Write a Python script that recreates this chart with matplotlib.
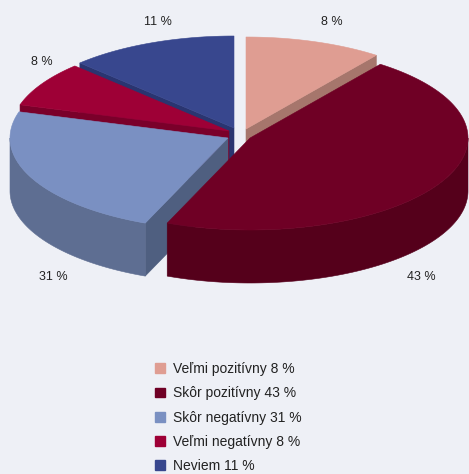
import numpy as np
import matplotlib
matplotlib.use('Agg')
import matplotlib.pyplot as plt
from matplotlib.patches import Polygon, Patch

categories = ['Veľmi pozitívny', 'Skôr pozitívny', 'Skôr negatívny', 'Veľmi negatívny', 'Neviem']
printed_percent = [8, 43, 31, 8, 11]
# the drawn wedges do not follow the printed numbers, so shares are read from the wedge angles
wedge_share = [10.2, 46.0, 23.4, 7.9, 12.5]

top_colors = ['#DF9D92', '#6F0025', '#7A90C2', '#9E0036', '#38478E']
wall_colors = ['#A6766C', '#55001B', '#5E6E92', '#7A002A', '#2A3570']
cut_colors = ['#A6766C', '#55001B', '#4F5F80', '#7A002A', '#2A3570']
bg = '#EEF0F6'

# pie geometry in pixels
cx, cy = 238, 132
rx, ry = 218, 92
depth = 53
explode_x = [8, 12, -10, -9, -4]
explode_y = [-3, 6, 6, -1, -4]
label_x = [332, 421, 53, 42, 158]
label_y = [22, 277, 277, 62, 22]

plt.rcParams['font.family'] = ['Liberation Sans', 'DejaVu Sans']

fig = plt.figure(figsize=(4.69, 4.74), dpi=100, facecolor=bg)
ax = fig.add_axes([0, 0, 1, 1])
ax.set_xlim(0, 469)
ax.set_ylim(474, 0)
ax.axis('off')


def rim(x0, y0, angles):
    t = np.radians(angles)
    return np.column_stack([x0 + rx * np.sin(t), y0 - ry * np.cos(t)])


edges = np.concatenate([[0], np.cumsum(wedge_share)]) / sum(wedge_share) * 360
mids = (edges[:-1] + edges[1:]) / 2
draw_order = np.argsort(-np.cos(np.radians(mids)))

for i in draw_order:
    a0, a1 = edges[i], edges[i + 1]
    x0, y0 = cx + explode_x[i], cy + explode_y[i]
    z = 10 + list(draw_order).index(i)

    # cut faces, only the ones turned towards the viewer
    for a, normal in ((a0, a0 - 90), (a1, a1 + 90)):
        if np.cos(np.radians(normal)) < 0:
            p = rim(x0, y0, [a])[0]
            pts = [(x0, y0), tuple(p), (p[0], p[1] + depth), (x0, y0 + depth)]
            ax.add_patch(Polygon(pts, closed=True, fc=cut_colors[i], ec=cut_colors[i], lw=0.4, zorder=z))

    # outer wall on the front half
    lo, hi = max(a0, 90), min(a1, 270)
    if lo < hi:
        arc = rim(x0, y0, np.linspace(lo, hi, 120))
        low = arc + [0, depth]
        ax.add_patch(Polygon(np.vstack([arc, low[::-1]]), closed=True, fc=wall_colors[i],
                             ec=wall_colors[i], lw=0.4, zorder=z))

    # top face
    arc = rim(x0, y0, np.linspace(a0, a1, 160))
    ax.add_patch(Polygon(np.vstack([[x0, y0], arc]), closed=True, fc=top_colors[i],
                         ec=top_colors[i], lw=0.4, zorder=z))

    ax.text(label_x[i], label_y[i], f'{printed_percent[i]} %', ha='center', va='center',
            fontsize=9, color='#222222', zorder=30)

handles = [Patch(fc=c, ec=c) for c in top_colors]
labels = [f'{c} {v} %' for c, v in zip(categories, printed_percent)]
ax.legend(handles, labels, loc='upper left', bbox_to_anchor=(155 / 469, 1 - 362 / 474),
          frameon=False, fontsize=10, labelcolor='#222222', handlelength=0.7, handleheight=0.7,
          handletextpad=0.58, labelspacing=0.74, borderpad=0, borderaxespad=0)

plt.savefig('out.png', dpi=100, facecolor=bg)
